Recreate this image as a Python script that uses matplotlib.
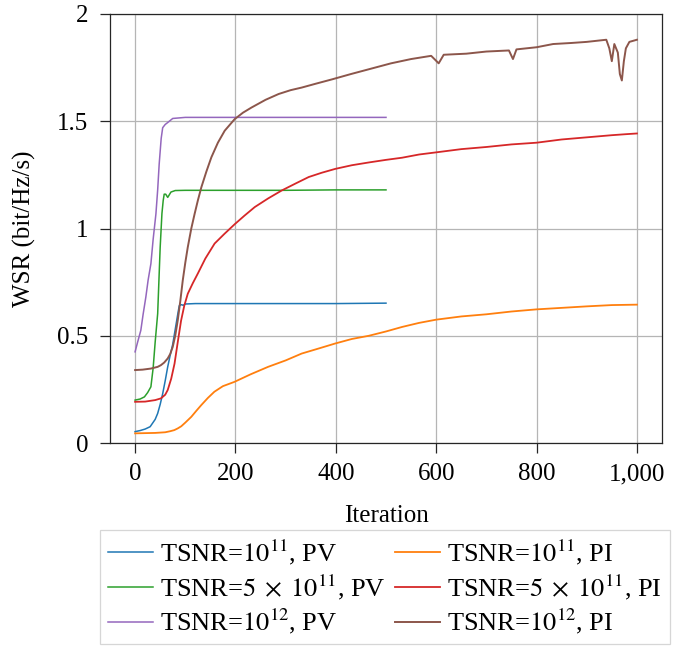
import matplotlib
matplotlib.use("Agg")
import matplotlib.pyplot as plt
from matplotlib.ticker import FuncFormatter, FixedLocator

plt.rcParams['font.family'] = ['Liberation Serif', 'DejaVu Serif']
plt.rcParams['mathtext.fontset'] = 'stix'

# ---- data ----
blue_x = [0, 10, 20, 30, 40, 45, 50, 55, 60, 65, 70, 75, 80, 85, 88, 92, 96, 100, 120, 200, 300, 400, 500]
blue_y = [0.053, 0.058, 0.065, 0.076, 0.11, 0.138, 0.18, 0.23, 0.29, 0.355, 0.41, 0.46, 0.53, 0.60, 0.64,
          0.645, 0.642, 0.648, 0.65, 0.65, 0.65, 0.65, 0.652]

orange_x = [0, 20, 40, 60, 70, 78, 85, 92, 100, 112, 122, 132, 145, 158, 175, 198, 230, 265, 300, 332, 365,
            399, 432, 466, 500, 532, 566, 600, 650, 700, 750, 800, 850, 900, 950, 1000]
orange_y = [0.045, 0.046, 0.047, 0.05, 0.055, 0.06, 0.068, 0.078, 0.095, 0.122, 0.15, 0.177, 0.21, 0.239,
            0.265, 0.285, 0.32, 0.355, 0.385, 0.417, 0.44, 0.464, 0.485, 0.50, 0.52, 0.541, 0.56, 0.575,
            0.59, 0.60, 0.613, 0.623, 0.63, 0.637, 0.643, 0.645]

green_x = [0, 10, 18.6, 25, 31.5, 36, 40, 45, 50, 53.5, 56, 58, 61, 65, 71.5, 80, 100, 200, 300, 400, 500]
green_y = [0.2, 0.205, 0.215, 0.235, 0.262, 0.35, 0.47, 0.603, 0.913, 1.07, 1.13, 1.16, 1.16, 1.145, 1.17,
           1.177, 1.178, 1.178, 1.178, 1.18, 1.18]

red_x = [0, 20, 40, 51.5, 60, 65, 72, 78.6, 85, 91.6, 98, 105, 115, 125, 140, 158.5, 178, 198.5, 218, 238.5,
         265, 292, 320, 346, 372, 399, 432, 466, 500, 532, 566, 600, 650, 700, 750, 800, 850, 900, 950, 980, 1000]
red_y = [0.192, 0.193, 0.2, 0.208, 0.225, 0.247, 0.3, 0.37, 0.47, 0.57, 0.64, 0.696, 0.745, 0.79, 0.86, 0.93,
         0.975, 1.02, 1.06, 1.10, 1.14, 1.177, 1.21, 1.24, 1.26, 1.278, 1.295, 1.308, 1.32, 1.33, 1.345, 1.355,
         1.37, 1.38, 1.392, 1.40, 1.415, 1.425, 1.435, 1.44, 1.443]

purple_x = [0, 5, 11.4, 16, 21.4, 26, 31.5, 36, 41.5, 45, 48, 52, 55, 60, 65, 75, 100, 200, 300, 400, 500]
purple_y = [0.425, 0.47, 0.525, 0.6, 0.68, 0.76, 0.836, 0.95, 1.068, 1.18, 1.30, 1.42, 1.47, 1.485, 1.494,
            1.513, 1.518, 1.518, 1.518, 1.518, 1.518]

brown_x = [0, 15, 31.5, 45, 51.5, 58, 65, 70, 75, 80, 85, 90, 95, 100, 105, 112, 118.6, 125, 132, 142, 152,
           165, 178.6, 198.5, 215, 232, 260, 286, 310, 332, 360, 392, 430, 470, 510, 550, 590, 605, 615, 660,
           700, 745, 753, 760, 800, 833, 870, 900, 939, 945, 950, 955, 962, 966, 970, 974, 978, 985, 1000]
brown_y = [0.34, 0.342, 0.347, 0.355, 0.363, 0.375, 0.394, 0.415, 0.448, 0.5, 0.572, 0.66, 0.758, 0.84, 0.913,
           1.0, 1.068, 1.13, 1.192, 1.265, 1.332, 1.4, 1.456, 1.51, 1.54, 1.564, 1.6, 1.627, 1.645, 1.657, 1.675,
           1.695, 1.72, 1.745, 1.77, 1.79, 1.805, 1.77, 1.81, 1.815, 1.825, 1.83, 1.79, 1.835, 1.845, 1.86,
           1.865, 1.87, 1.88, 1.84, 1.78, 1.86, 1.82, 1.72, 1.69, 1.78, 1.84, 1.87, 1.88]

labels = [r'TSNR=$10^{11}$, PV', r'TSNR=$10^{11}$, PI',
          r'TSNR=$5\;\times\;10^{11}$, PV', r'TSNR=$5\;\times\;10^{11}$, PI',
          r'TSNR=$10^{12}$, PV', r'TSNR=$10^{12}$, PI']
x_ticks = [0, 200, 400, 600, 800, 1000]
y_ticks = [0, 0.5, 1, 1.5, 2]

# ---- figure ----
fig = plt.figure(figsize=(6.94, 6.46), dpi=100)
ax = fig.add_axes([110/694, 1-443/646, 552/694, 429/646])

series = [(blue_x, blue_y, '#1f77b4', 1.1), (orange_x, orange_y, '#ff7f0e', 1.3),
          (green_x, green_y, '#2ca02c', 1.1), (red_x, red_y, '#d62728', 1.3),
          (purple_x, purple_y, '#9467bd', 1.1), (brown_x, brown_y, '#8c564b', 1.4)]
handles = []
for (xs, ys, c, lw), lab in zip(series, labels):
    h, = ax.plot(xs, ys, color=c, lw=lw, label=lab)
    handles.append(h)

ax.set_xlim(-50, 1050)
ax.set_ylim(0, 2)
ax.xaxis.set_major_locator(FixedLocator(x_ticks))
ax.yaxis.set_major_locator(FixedLocator(y_ticks))
ax.xaxis.set_major_formatter(FuncFormatter(lambda v, p: f'{int(v):,}'))
ax.yaxis.set_major_formatter(FuncFormatter(lambda v, p: f'{v:g}'))
ax.grid(True, color='#b5b5b5', lw=0.9)
ax.set_axisbelow(True)
for s in ax.spines.values():
    s.set_color('#262626')
    s.set_linewidth(0.9)
ax.tick_params(direction='out', length=7.5, width=0.9, color='#262626', labelsize=18, pad=7)
ax.tick_params(axis='y', pad=8)

ax.set_xlabel('Iteration', fontsize=18, labelpad=14)
ax.set_ylabel('WSR (bit/Hz/s)', fontsize=18, labelpad=15)

order = [0, 2, 4, 1, 3, 5]  # row-wise filling of the 2-column legend
leg = fig.legend(handles=[handles[i] for i in order], labels=[labels[i] for i in order], ncol=2,
                 loc='upper center', bbox_to_anchor=(385/694, 1-530/646), borderaxespad=0,
                 fontsize=19, frameon=True, fancybox=False,
                 edgecolor='#cccccc', handlelength=1.7, handletextpad=0.27, columnspacing=0.34,
                 labelspacing=0.2, borderpad=0.3)
leg.get_frame().set_linewidth(0.9)

fig.savefig('out.png', dpi=100)
